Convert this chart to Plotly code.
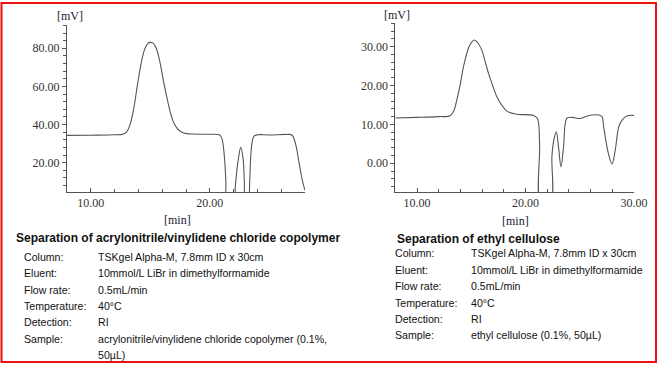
import plotly.graph_objects as go

W, H = 658, 365

# ---------------- data ----------------
# Left: acrylonitrile/vinylidene chloride copolymer
left_time = [8.0, 10.0, 12.0, 12.7, 13.0, 13.3, 13.6, 13.9, 14.2, 14.5, 14.8, 15.0, 15.2, 15.5,
             15.8, 16.1, 16.4, 16.7, 17.0, 17.4, 17.8, 18.5, 20.0, 20.8, 21.0, 21.2, 21.35, 21.45,
             22.0, 22.15, 22.4, 22.6, 22.8, 22.9, 23.0, 23.2, 23.35, 23.5, 23.7, 24.0, 25.0, 26.5,
             26.9, 27.2, 27.5, 27.8, 28.0]
left_mv = [34.3, 34.4, 34.6, 34.9, 36.0, 40.0, 48.0, 60.0, 71.0, 79.0, 82.6, 83.1, 82.8, 80.0,
           73.0, 63.0, 54.0, 46.0, 40.5, 37.0, 35.6, 35.0, 34.9, 34.6, 33.0, 25.0, 10.0, -5.0,
           -5.0, 8.0, 22.0, 28.0, 22.0, 10.0, -5.0, -5.0, 10.0, 28.0, 33.8, 34.6, 34.5, 34.8,
           34.5, 30.0, 20.0, 10.0, 5.5]

# Right: ethyl cellulose
right_time = [8.0, 10.0, 12.0, 13.05, 13.4, 13.67, 14.0, 14.28, 14.74, 15.0, 15.27, 15.6, 15.97,
              16.3, 16.59, 17.0, 17.36, 17.8, 18.28, 19.2, 20.74, 21.1, 21.3, 21.42, 22.3, 22.44,
              22.65, 22.84, 23.05, 23.27, 23.5, 23.82, 24.3, 25.05, 25.6, 26.75, 27.05, 27.2,
              27.6, 27.97, 28.25, 28.6, 28.9, 29.37, 30.0]
right_mv = [11.65, 11.8, 12.0, 12.2, 13.5, 16.3, 20.5, 24.8, 29.6, 31.0, 31.7, 31.0, 29.1,
            26.0, 23.1, 19.8, 17.1, 15.0, 13.4, 12.6, 12.3, 11.5, 5.0, -10.0, -10.0, 2.0,
            6.5, 8.1, 4.0, -0.9, 4.0, 11.6, 11.8, 11.5, 12.1, 12.4, 12.0, 9.4,
            3.0, -0.2, 3.0, 9.4, 11.1, 12.2, 12.3]

left_yticks = [20, 40, 60, 80]
right_yticks = [0, 10, 20, 30]
left_xticks = [10, 20]
right_xticks = [10, 20, 30]

left_title = "Separation of acrylonitrile/vinylidene chloride copolymer"
right_title = "Separation of ethyl cellulose"
row_labels = ["Column:", "Eluent:", "Flow rate:", "Temperature:", "Detection:", "Sample:"]
left_values = ["TSKgel Alpha-M, 7.8mm ID x 30cm", "10mmol/L LiBr in dimethylformamide",
               "0.5mL/min", "40°C", "RI", "acrylonitrile/vinylidene chloride copolymer (0.1%,"]
left_values_extra = "50µL)"
right_values = ["TSKgel Alpha-M, 7.8mm ID x 30cm", "10mmol/L LiBr in dimethylformamide",
                "0.5mL/min", "40°C", "RI", "ethyl cellulose (0.1%, 50µL)"]


def px(x):
    return x / W


def py(y):
    return 1 - y / H


fig = go.Figure()
line_style = dict(color="#555555", width=1.1)
fig.add_trace(go.Scatter(x=left_time, y=left_mv, mode="lines", line=line_style,
                         line_shape="spline", xaxis="x", yaxis="y", showlegend=False))
fig.add_trace(go.Scatter(x=right_time, y=right_mv, mode="lines", line=line_style,
                         line_shape="spline", xaxis="x2", yaxis="y2", showlegend=False))

tickfont = dict(family="Liberation Serif", size=12, color="#333333")
axis_common = dict(showgrid=False, zeroline=False, showline=True, linecolor="#555555",
                   linewidth=1, tickfont=tickfont, tickcolor="#555555", tickformat=".2f",
                   automargin=False)

fig.update_layout(
    width=W, height=H, autosize=False, margin=dict(l=0, r=0, t=0, b=0),
    paper_bgcolor="white", plot_bgcolor="white",
    xaxis=dict(domain=[px(67), px(305)], range=[8, 28], anchor="y",
               tickvals=left_xticks, ticks="inside", ticklen=4,
               minor=dict(dtick=2, tick0=0, ticks="inside", ticklen=3, tickcolor="#555555"),
               **axis_common),
    yaxis=dict(domain=[py(192), py(25)], range=[4.6, 92.2], anchor="x",
               tickvals=left_yticks, ticks="outside", ticklen=4,
               minor=dict(dtick=4, tick0=0, ticks="outside", ticklen=3, tickcolor="#555555"),
               **axis_common),
    xaxis2=dict(domain=[px(395.3), px(634)], range=[8, 30], anchor="y2",
                tickvals=right_xticks, ticks="inside", ticklen=4,
                minor=dict(dtick=2, tick0=0, ticks="inside", ticklen=3, tickcolor="#555555"),
                **axis_common),
    yaxis2=dict(domain=[py(192), py(23.3)], range=[-7.4, 36], anchor="x2",
                tickvals=right_yticks, ticks="outside", ticklen=4,
                minor=dict(dtick=2, tick0=0, ticks="outside", ticklen=3, tickcolor="#555555"),
                **axis_common),
)

ann = []
unit_font = dict(family="Liberation Serif", size=12, color="#1a1a33")
ann.append(dict(x=px(70), y=py(16), text="[mV]", font=unit_font))
ann.append(dict(x=px(397), y=py(15), text="[mV]", font=unit_font))
ann.append(dict(x=px(177), y=py(220), text="[min]", font=unit_font))
ann.append(dict(x=px(515), y=py(221), text="[min]", font=unit_font))

title_font = dict(family="Liberation Sans", size=12, color="#111111")
ann.append(dict(x=px(14), y=py(238), text="<b>" + left_title + "</b>", font=title_font,
                xanchor="left"))
ann.append(dict(x=px(395), y=py(239), text="<b>" + right_title + "</b>", font=title_font,
                xanchor="left"))

row_font = dict(family="Liberation Sans", size=10.6, color="#111111")
left_rows_y = [256.7, 272.7, 289.5, 306, 322, 339]
right_rows_y = [253.3, 270, 286, 302.7, 318.7, 334.7]
for lab, val, yy in zip(row_labels, left_values, left_rows_y):
    ann.append(dict(x=px(22), y=py(yy), text=lab, font=row_font, xanchor="left"))
    ann.append(dict(x=px(96), y=py(yy), text=val, font=row_font, xanchor="left"))
ann.append(dict(x=px(96), y=py(355), text=left_values_extra, font=row_font, xanchor="left"))
for lab, val, yy in zip(row_labels, right_values, right_rows_y):
    ann.append(dict(x=px(393.3), y=py(yy), text=lab, font=row_font, xanchor="left"))
    ann.append(dict(x=px(469.3), y=py(yy), text=val, font=row_font, xanchor="left"))

for a in ann:
    a.setdefault("xanchor", "center")
    a.update(xref="paper", yref="paper", yanchor="middle", showarrow=False)
fig.update_layout(annotations=ann)

fig.add_shape(type="rect", xref="paper", yref="paper",
              x0=px(1.5), x1=px(656), y0=py(362), y1=py(3),
              line=dict(color="#ee1111", width=2))

fig.write_html("out.html",
               config={"responsive": False, "displayModeBar": False},
               post_script="document.body.style.margin='0';document.body.style.overflow='hidden';")
